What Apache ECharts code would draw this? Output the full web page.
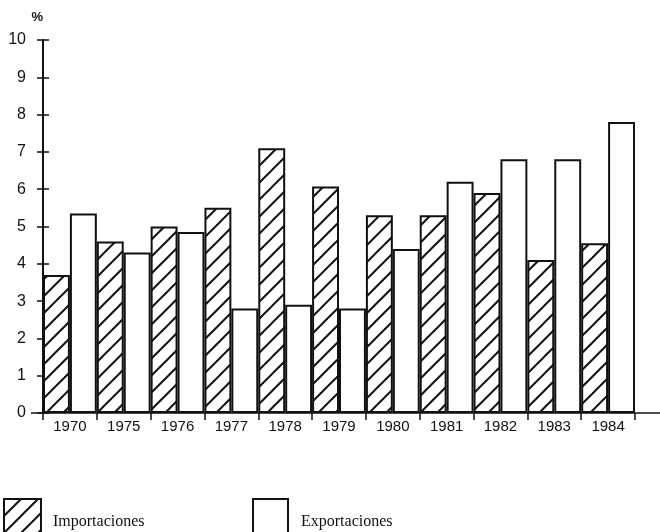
<!DOCTYPE html>
<html>
<head>
<meta charset="utf-8">
<script src="https://cdn.jsdelivr.net/npm/echarts@6/dist/echarts.min.js"></script>
<style>
  html,body{margin:0;padding:0;background:#fff;}
  #main{width:660px;height:532px;}
</style>
</head>
<body>
<div id="main"></div>
<script>
// datos
let years=["1970","1975","1976","1977","1978","1979","1980","1981","1982","1983","1984"];
let importaciones=[3.7,4.6,5.0,5.5,7.1,6.07,5.3,5.3,5.9,4.1,4.55];
let exportaciones=[5.35,4.3,4.85,2.8,2.9,2.8,4.4,6.2,6.8,6.8,7.8];
let yTicks=[0,1,2,3,4,5,6,7,8,9,10];

// trama rayada para importaciones
function hatch(){
  let s=17;
  let c=document.createElement('canvas');
  c.width=s;c.height=s;
  let g=c.getContext('2d');
  g.fillStyle='#fff';g.fillRect(0,0,s,s);
  g.strokeStyle='#111';g.lineWidth=2;
  g.beginPath();
  g.moveTo(-1,s+1);g.lineTo(s+1,-1);
  g.moveTo(-2,2);g.lineTo(2,-2);
  g.moveTo(s-2,s+2);g.lineTo(s+2,s-2);
  g.stroke();
  return c;
}
let hatchFill={image:hatch(),repeat:'repeat'};

let mychart=echarts.init(document.getElementById('main'));
let font="'Liberation Sans', Arial, sans-serif";
let serif="'Liberation Serif', serif";
let option={
  animation:false,
  grid:{left:43,right:25,top:40,bottom:119},
  legend:[
    {data:[{name:'Importaciones',icon:'rect'}],left:3,top:498,padding:0,itemWidth:37,itemHeight:46,
     textStyle:{fontFamily:serif,fontSize:16,color:'#111',padding:[0,0,0,7]}},
    {data:[{name:'Exportaciones',icon:'rect'}],left:252,top:498,padding:0,itemWidth:35,itemHeight:46,
     textStyle:{fontFamily:serif,fontSize:16,color:'#111',padding:[0,0,0,8]}}
  ],
  xAxis:{
    type:'category',
    data:years,
    axisLine:{show:false},
    axisTick:{show:true,length:7,lineStyle:{color:'#111',width:1.5}},
    axisLabel:{color:'#111',fontSize:15,fontFamily:font,margin:6}
  },
  yAxis:[{
    type:'value',min:0,max:10,interval:1,
    name:'%',nameLocation:'end',nameGap:16,
    nameTextStyle:{color:'#111',fontSize:13,fontWeight:'bold',align:'right',padding:[0,0,0,0]},
    axisLine:{show:true,lineStyle:{color:'#111',width:2}},
    axisTick:{show:true,length:6,lineStyle:{color:'#111',width:1.5}},
    axisLabel:{color:'#111',fontSize:16,fontFamily:font,margin:17,
      formatter:function(v){return yTicks.indexOf(v)>=0?String(v):'';}},
    splitLine:{show:false}
  },{
    type:'value',min:0,max:10,interval:1,position:'left',
    axisLine:{show:false},
    axisTick:{show:true,inside:true,length:6,lineStyle:{color:'#111',width:1.5}},
    axisLabel:{show:false},
    splitLine:{show:false}
  }],
  series:[{
    name:'Importaciones',
    type:'bar',
    data:importaciones,
    barGap:'0%',
    barCategoryGap:'0%',
    itemStyle:{color:hatchFill,borderColor:'#111',borderWidth:2}
  },{
    name:'Exportaciones',
    type:'bar',
    data:exportaciones,
    barGap:'0%',
    barCategoryGap:'0%',
    itemStyle:{color:'#fff',borderColor:'#111',borderWidth:2}
  }]
};
mychart.setOption(option);

// línea base del eje x, más larga que la cuadrícula
let y0=mychart.convertToPixel({yAxisIndex:0},0);
mychart.setOption({
  graphic:[{type:'line',shape:{x1:31,y1:y0,x2:660,y2:y0},style:{stroke:'#111',lineWidth:1.5},z:10}]
});
</script>
</body>
</html>
